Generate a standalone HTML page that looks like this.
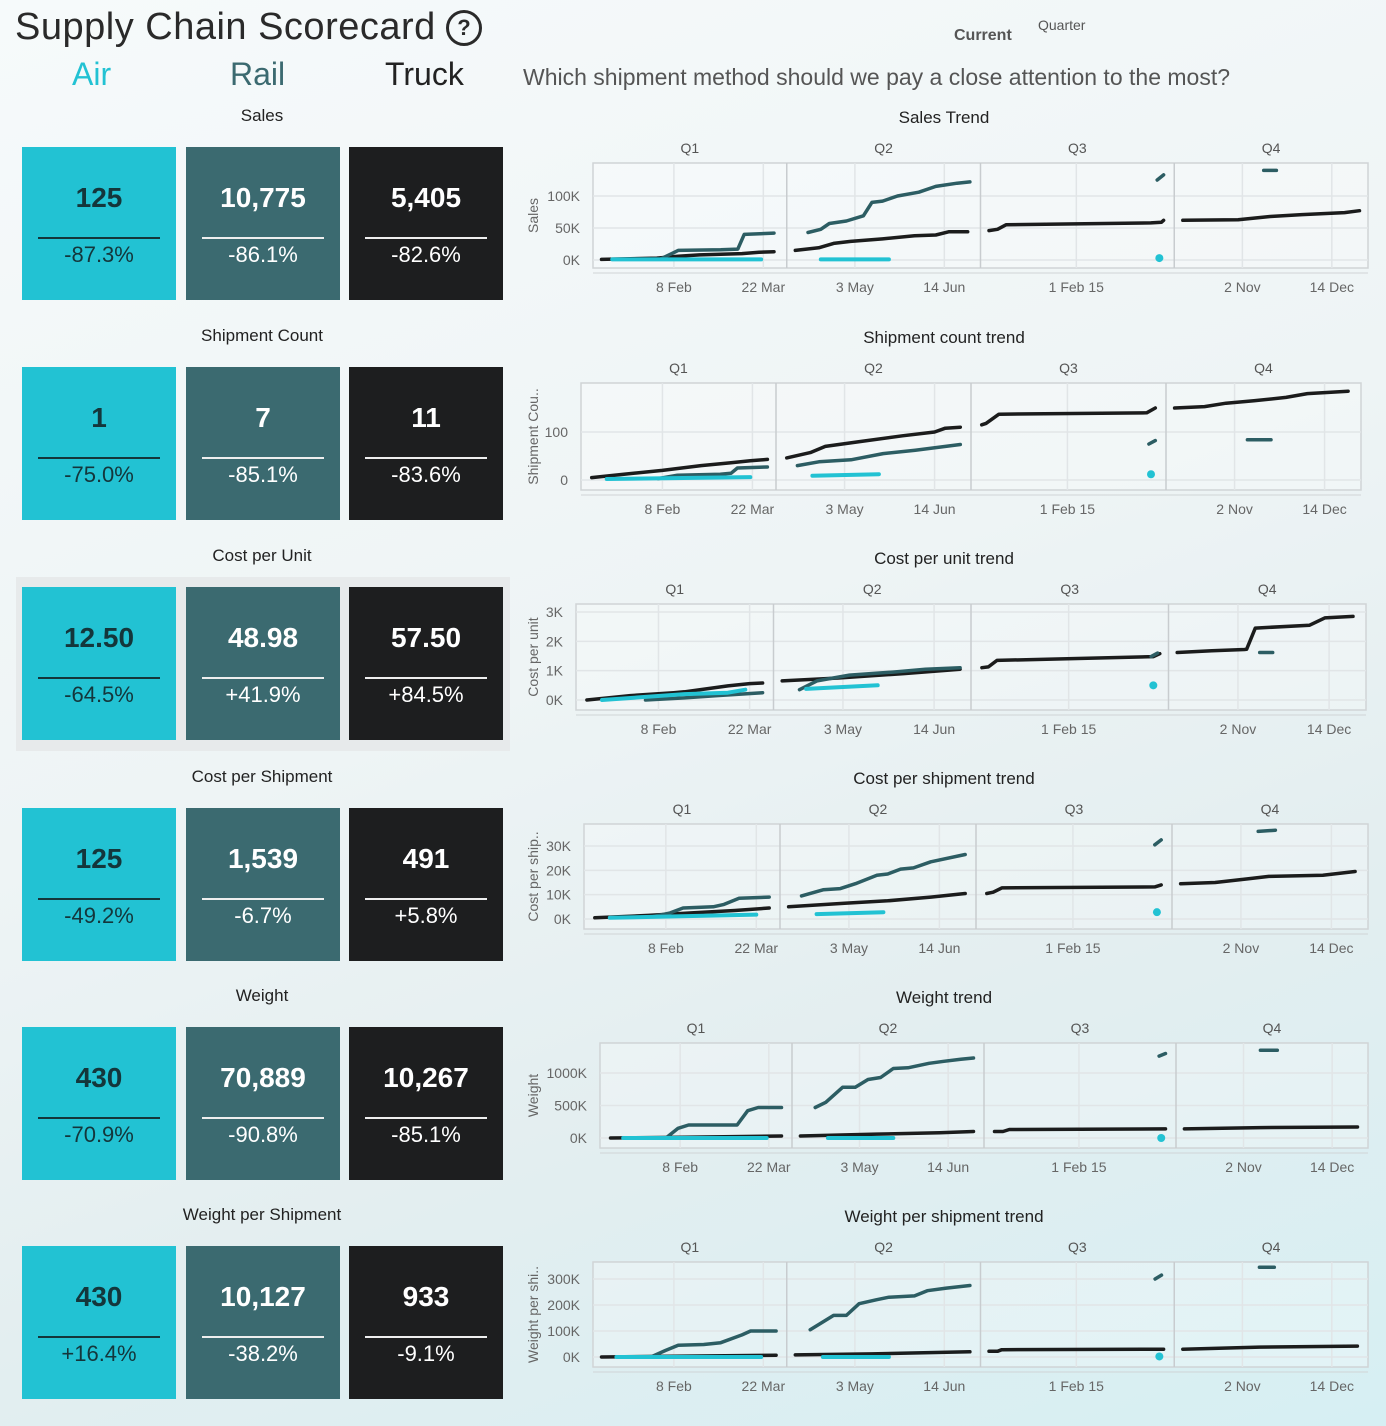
<!DOCTYPE html>
<html><head><meta charset="utf-8">
<style>
body{margin:0;width:1386px;height:1426px;overflow:hidden;font-family:"Liberation Sans",sans-serif;
background:linear-gradient(160deg,#f6fafb 0%,#eef4f5 45%,#e3eef0 70%,#d6eff3 100%);position:relative}
.abs{position:absolute}
.tile{position:absolute;width:154px;height:153px;text-align:center}
.tile .v{position:absolute;top:35px;width:100%;font-size:28px;font-weight:bold}
.tile .ln{position:absolute;left:16px;right:16px;top:90px;height:2px}
.tile .p{position:absolute;top:95px;width:100%;font-size:22px}
.air{background:#22c2d3;color:#14363b}.air .ln{background:#14363b}
.rail{background:#3b6a70;color:#fff}.rail .ln{background:#eee}
.truck{background:#1d1e1f;color:#fff}.truck .ln{background:#eee}
.lbl{position:absolute;width:260px;left:132px;text-align:center;font-size:17px;color:#222}
</style></head><body>
<div class="abs" style="left:15px;top:6px;font-size:38px;color:#2a2a2a;letter-spacing:0.5px">Supply Chain Scorecard</div>
<div class="abs" style="left:446px;top:10px;width:30px;height:30px;border:3px solid #2a2a2a;border-radius:50%;text-align:center;font-size:22px;font-weight:bold;line-height:30px;color:#2a2a2a">?</div>
<div class="abs" style="left:72px;top:56px;font-size:32px;color:#22c2d3">Air</div>
<div class="abs" style="left:230px;top:56px;font-size:32px;color:#3b6a70">Rail</div>
<div class="abs" style="left:385px;top:56px;font-size:32px;color:#222">Truck</div>
<div class="abs" style="left:954px;top:27px;font-size:16px;font-weight:bold;color:#555">Current</div>
<div class="abs" style="left:1038px;top:17px;font-size:14px;color:#555">Quarter</div>
<div class="abs" style="left:523px;top:64px;font-size:23px;color:#555">Which shipment method should we pay a close attention to the most?</div>
<div class="abs" style="left:16px;top:577px;width:494px;height:174px;background:#e7eaeb"></div>
<div id="tiles"></div>
<svg id="charts" class="abs" style="left:0;top:0" width="1386" height="1426"></svg>
<script>
// KPI data
const metricNames=["Sales","Shipment Count","Cost per Unit","Cost per Shipment","Weight","Weight per Shipment"];
const airVals=["125","1","12.50","125","430","430"];
const airPct=["-87.3%","-75.0%","-64.5%","-49.2%","-70.9%","+16.4%"];
const railVals=["10,775","7","48.98","1,539","70,889","10,127"];
const railPct=["-86.1%","-85.1%","+41.9%","-6.7%","-90.8%","-38.2%"];
const truckVals=["5,405","11","57.50","491","10,267","933"];
const truckPct=["-82.6%","-83.6%","+84.5%","+5.8%","-85.1%","-9.1%"];

// Trend data: per quarter arrays of [dayOfQuarter, value]
const chartTitles=["Sales Trend","Shipment count trend","Cost per unit trend","Cost per shipment trend","Weight trend","Weight per shipment trend"];
const yTitles=["Sales","Shipment Cou..","Cost per unit","Cost per ship..","Weight","Weight per shi.."];
const yTicks=[[0,50,100],[0,100],[0,1000,2000,3000],[0,10000,20000,30000],[0,500,1000],[0,100,200,300]];
const yTickLabels=[["0K","50K","100K"],["0","100"],["0K","1K","2K","3K"],["0K","10K","20K","30K"],["0K","500K","1000K"],["0K","100K","200K","300K"]];
const quarterLabels=["Q1","Q2","Q3","Q4"];
const dateTickDays=[[38,80],[32,74],[45],[32,74]];
const dateTickLabels=[["8 Feb","22 Mar"],["3 May","14 Jun"],["1 Feb 15"],["2 Nov","14 Dec"]];

const salesTruck=[[[4,1],[30,3],[40,6],[50,8],[70,10],[78,12],[85,13]],[[4,15],[15,19],[22,26],[30,29],[45,33],[60,38],[70,39],[76,44],[85,44]],[[4,46],[8,48],[12,55],[80,58],[85,59],[86,62]],[[4,62],[30,63],[45,68],[60,71],[80,74],[87,77]]];
const salesRail=[[[32,2],[37,10],[40,15],[60,16],[68,17],[71,40],[85,42]],[[10,43],[16,48],[20,57],[28,61],[36,69],[40,90],[45,92],[52,100],[62,106],[70,115],[80,120],[86,122]],[[83,125],[86,133]],[[42,140],[48,140]]];
const salesAir=[[[9,1],[79,1]],[[16,1],[48,1]],[[84,3]],[]];

const shipTruck=[[[5,5],[20,12],[38,20],[56,30],[70,36],[79,40],[87,43]],[[5,46],[16,57],[23,70],[39,80],[59,92],[74,100],[79,108],[86,110]],[[5,115],[7,118],[13,137],[82,140],[86,150]],[[4,150],[18,153],[28,160],[41,165],[56,172],[66,180],[85,185]]];
const shipRail=[[[36,3],[45,10],[65,12],[70,14],[73,25],[87,27]],[[10,30],[20,38],[35,42],[50,55],[65,62],[86,74]],[[83,75],[86,82]],[[38,84],[49,84]]];
const shipAir=[[[12,2],[79,6]],[[17,9],[48,12]],[[84,12]],[]];

const cpuTruck=[[[5,0],[25,150],[45,250],[50,280],[60,380],[70,480],[80,560],[86,580]],[[4,650],[30,750],[60,900],[86,1050]],[[5,1100],[8,1130],[12,1350],[84,1480],[87,1580]],[[4,1620],[20,1680],[35,1720],[36,1730],[40,2450],[65,2550],[72,2800],[85,2850]]];
const cpuRail=[[[32,0],[50,70],[65,150],[86,250]],[[12,350],[20,650],[35,850],[55,950],[70,1050],[86,1100]],[[83,1480],[86,1600]],[[42,1620],[48,1620]]];
const cpuAir=[[[12,0],[50,200],[70,250],[78,350]],[[15,380],[48,500]],[[84,500]],[]];

const cpsTruck=[[[5,500],[30,1500],[50,2500],[70,3500],[86,4500]],[[4,5000],[30,6500],[50,7500],[70,9000],[86,10500]],[[5,10500],[8,11000],[12,12800],[83,13200],[86,14000]],[[4,14500],[20,15000],[35,16500],[45,17500],[70,18000],[85,19500]]];
const cpsRail=[[[32,1000],[40,2500],[46,4500],[60,5000],[65,6000],[72,8500],[86,9000]],[[10,9500],[20,12000],[28,12500],[35,14500],[45,18000],[50,18500],[56,20500],[62,21000],[70,23500],[86,26500]],[[83,30500],[86,32500]],[[40,36000],[48,36500]]];
const cpsAir=[[[12,500],[80,1800]],[[17,2000],[48,2800]],[[84,2800]],[]];

const wTruck=[[[5,0],[40,10],[86,30]],[[4,30],[40,60],[70,80],[86,100]],[[5,100],[9,100],[12,130],[86,140]],[[4,140],[40,160],[86,170]]];
const wRail=[[[32,20],[37,150],[42,200],[65,200],[70,420],[75,470],[86,470]],[[11,470],[16,550],[24,780],[30,780],[36,900],[42,930],[48,1070],[55,1080],[65,1150],[72,1180],[80,1210],[86,1230]],[[83,1260],[86,1300]],[[40,1350],[48,1350]]];
const wAir=[[[11,0],[79,0]],[[17,0],[48,0]],[[84,0]],[]];

const wpsTruck=[[[4,0],[86,7]],[[4,8],[40,12],[86,20]],[[4,22],[8,22],[10,28],[86,30]],[[4,30],[40,38],[86,42]]];
const wpsRail=[[[28,3],[34,25],[40,45],[52,48],[60,55],[70,85],[74,100],[86,100]],[[11,105],[16,130],[22,160],[28,160],[34,205],[42,220],[48,230],[60,235],[66,255],[75,265],[86,275]],[[82,300],[85,315]],[[40,345],[47,345]]];
const wpsAir=[[[11,0],[79,0]],[[17,0],[48,0]],[[84,2]],[]];

const seriesSets=[[salesTruck,salesRail,salesAir],[shipTruck,shipRail,shipAir],[cpuTruck,cpuRail,cpuAir],[cpsTruck,cpsRail,cpsAir],[wTruck,wRail,wAir],[wpsTruck,wpsRail,wpsAir]];
const seriesNames=["truck","rail","air"];
const seriesColors=["#1b1c1c","#2c5d63","#22c2d3"];

// layout (pixels): z = pixel of 0, tp = pixel of tick value tk
const rowY=[0,220,440,661,880,1099];
const layout=[
 {l:593,r:1368,t:163,b:268,z:260,tk:100,tp:196},
 {l:581,r:1361,t:383,b:490,z:480,tk:100,tp:432},
 {l:576,r:1366,t:604,b:710,z:700,tk:3000,tp:612},
 {l:584,r:1368,t:824,b:929,z:919,tk:30000,tp:846},
 {l:600,r:1368,t:1043,b:1148,z:1138,tk:1000,tp:1073},
 {l:593,r:1368,t:1262,b:1367,z:1357,tk:300,tp:1279}
];

// tiles
const tiles=document.getElementById('tiles');
const groups=[["air",airVals,airPct,22],["rail",railVals,railPct,186],["truck",truckVals,truckPct,349]];
metricNames.forEach((m,i)=>{
  const lb=document.createElement('div');lb.className='lbl';lb.style.top=(106+rowY[i])+'px';lb.textContent=m;
  
  
  tiles.appendChild(lb);
  groups.forEach(g=>{
    const t=document.createElement('div');t.className='tile '+g[0];
    t.style.left=g[3]+'px';t.style.top=(147+rowY[i])+'px';
    
    
    t.innerHTML='<div class="v">'+g[1][i]+'</div><div class="ln"></div><div class="p">'+g[2][i]+'</div>';
    tiles.appendChild(t);
  });
});

// charts
const svg=document.getElementById('charts');const NS='http://www.w3.org/2000/svg';
function mk(tag,attrs,parent,txt){const e=document.createElementNS(NS,tag);for(const k in attrs)e.setAttribute(k,attrs[k]);if(txt!==undefined)e.textContent=txt;(parent||svg).appendChild(e);return e;}
layout.forEach((L,ci)=>{
  const g=mk('g',{});
  
  
  const y=v=>L.z-v*(L.z-L.tp)/L.tk;
  const pw=(L.r-L.l)/4;
  const x=(q,d)=>L.l+q*pw+d/91*pw;
  const title=mk('text',{x:944,y:L.t-40,'text-anchor':'middle','font-size':17,fill:'#222'},g,chartTitles[ci]);
  
  
  mk('rect',{x:L.l,y:L.t,width:L.r-L.l,height:L.b-L.t,fill:'rgba(255,255,255,0.25)',stroke:'#d0d4d6','stroke-width':1.5},g);
  yTicks[ci].forEach((v,k)=>{
    const yy=y(v);
    mk('line',{x1:L.l,x2:L.r,y1:yy,y2:yy,stroke:'#e1e5e7','stroke-width':1.5},g);
    const tl=mk('text',{x:L.l-13,y:yy+5,'text-anchor':'end','font-size':14,fill:'#666'},g,yTickLabels[ci][k]);
    
    
  });
  const yt=mk('text',{transform:'translate(538,'+((L.t+L.b)/2)+') rotate(-90)','text-anchor':'middle','font-size':14,fill:'#666'},g,yTitles[ci]);
  
  
  for(let q=0;q<4;q++){
    if(q>0)mk('line',{x1:L.l+q*pw,x2:L.l+q*pw,y1:L.t,y2:L.b,stroke:'#c8cccf','stroke-width':1.5},g);
    const ql=mk('text',{x:L.l+q*pw+pw/2,y:L.t-10,'text-anchor':'middle','font-size':14,fill:'#555'},g,quarterLabels[q]);
    
    
    dateTickDays[q].forEach((d,k)=>{
      const xx=x(q,d);
      mk('line',{x1:xx,x2:xx,y1:L.t,y2:L.b,stroke:'#e1e5e7','stroke-width':1.5},g);
      const dl=mk('text',{x:xx,y:L.b+24,'text-anchor':'middle','font-size':14,fill:'#666'},g,dateTickLabels[q][k]);
      
      
    });
    seriesSets[ci].forEach((ser,si)=>{
      const pts=ser[q];if(!pts.length)return;
      if(pts.length===1){
        const c=mk('circle',{cx:x(q,pts[0][0]),cy:y(pts[0][1]),r:4,fill:seriesColors[si]},g);
        
        
        return;
      }
      const d=pts.map((p,k)=>(k?'L':'M')+x(q,p[0]).toFixed(1)+','+y(p[1]).toFixed(1)).join('');
      const pth=mk('path',{d:d,fill:'none',stroke:seriesColors[si],'stroke-width':si===2?4:3.5,'stroke-linecap':'round','stroke-linejoin':'round'},g);
      
      
    });
  }
  mk('line',{x1:L.l,x2:L.r,y1:L.b+5,y2:L.b+5,stroke:'#d0d4d6','stroke-width':1},g);
});
</script>
</body></html>
